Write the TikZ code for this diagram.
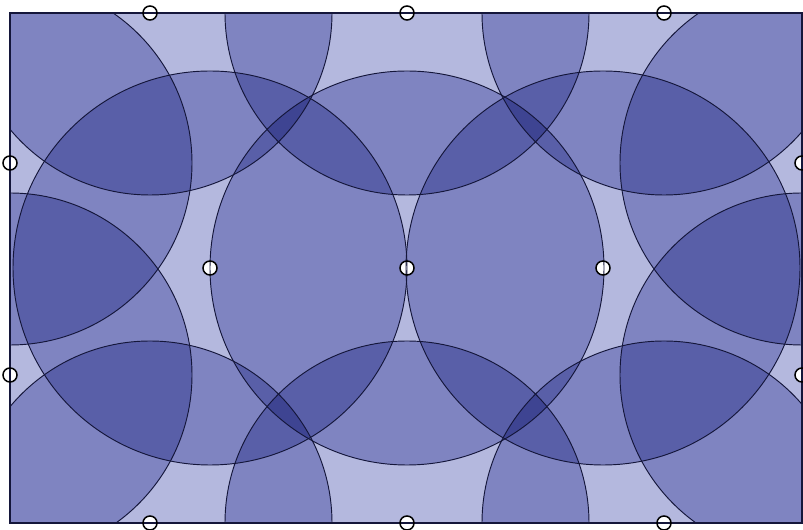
\documentclass[tikz,border=0pt]{standalone}
\usetikzlibrary{calc}
\definecolor{zone}{RGB}{180,184,222}
\definecolor{bord}{RGB}{20,22,58}

\begin{document}
\begin{tikzpicture}[x=0.03cm,y=0.03cm]
    \useasboundingbox (0,0) rectangle (803,530);

    % --- Définition du rectangle ---
    \coordinate (SO) at (10,7);
    \coordinate (NE) at (802,517);

    % --- Capteurs sur les bords (rayon 182) ---
    \coordinate (T1) at (150,517);
    \coordinate (T2) at (407,517);
    \coordinate (T3) at (664,517);
    \coordinate (B1) at (150,7);
    \coordinate (B2) at (407,7);
    \coordinate (B3) at (664,7);
    \coordinate (L1) at (10,367);
    \coordinate (L2) at (10,155);
    \coordinate (R1) at (802,367);
    \coordinate (R2) at (802,155);

    % --- Capteurs du milieu (rayon 197) ---
    \coordinate (M1) at (210,262);
    \coordinate (M2) at (407,262);
    \coordinate (M3) at (603,262);

    % --- Zones couvertes ---
    \begin{scope}
        \clip (SO) rectangle (NE);
        \fill[white] (SO) rectangle (NE);
        \foreach \c in {T1,T2,T3,B1,B2,B3,L1,L2,R1,R2}
            \fill[zone, blend mode=multiply] (\c) circle (182);
        \foreach \c in {M1,M2,M3}
            \fill[zone, blend mode=multiply] (\c) circle (197);
    \end{scope}

    % --- Intérieur des capteurs ---
    \foreach \c in {T1,T2,T3,B1,B2,B3,L1,L2,R1,R2,M1,M2,M3}
        \fill[white] (\c) circle (7);

    % --- Bords des zones et du rectangle ---
    \begin{scope}
        \clip (SO) rectangle (NE);
        \foreach \c in {T1,T2,T3,B1,B2,B3,L1,L2,R1,R2}
            \draw[bord, line width=0.8pt] (\c) circle (182);
        \foreach \c in {M1,M2,M3}
            \draw[bord, line width=0.8pt] (\c) circle (197);
    \end{scope}
    \draw[bord, line width=1pt] (SO) rectangle (NE);

    % --- Affichage des capteurs ---
    \foreach \c in {T1,T2,T3,B1,B2,B3,L1,L2,R1,R2,M1,M2,M3}
        \draw[black, line width=1.3pt] (\c) circle (7);

\end{tikzpicture}
\end{document}
